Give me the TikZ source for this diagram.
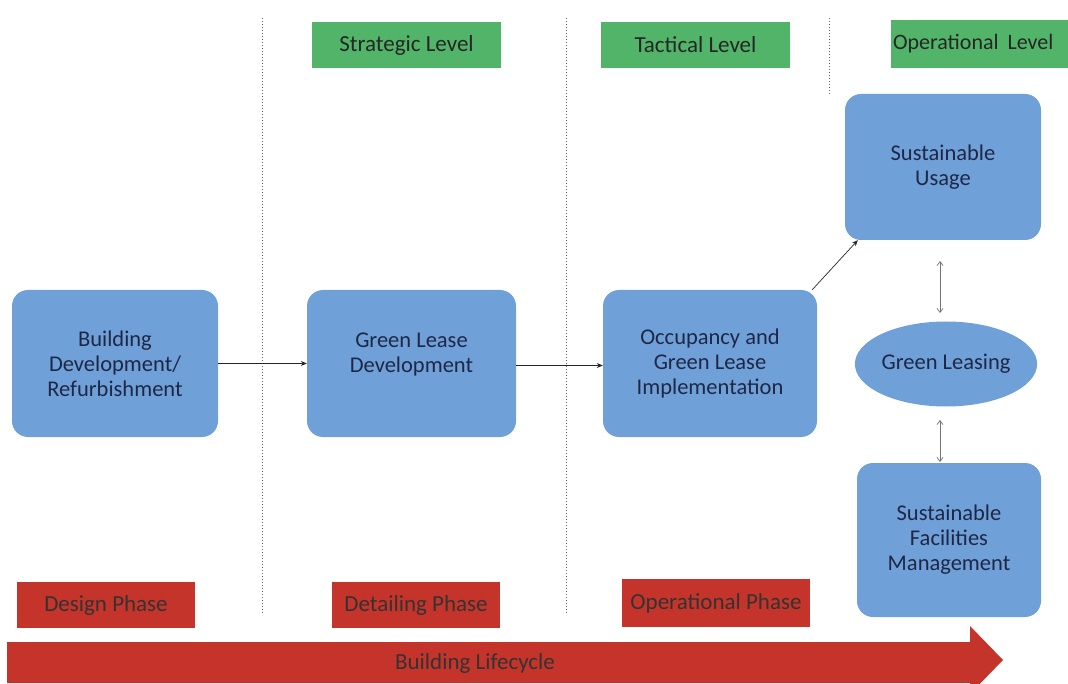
\documentclass[tikz,border=0pt]{standalone}
\usepackage{fontspec}
\setmainfont{Carlito}
\usetikzlibrary{shapes.geometric,arrows.meta,calc}
\definecolor{boxblue}{RGB}{112,160,216}
\definecolor{lvlgreen}{RGB}{82,180,104}
\definecolor{phred}{RGB}{196,52,42}
\definecolor{txt}{RGB}{30,40,70}
\tikzset{
  procbox/.style={fill=boxblue,draw=none,rounded corners=16pt,text=txt,align=center,font=\fontsize{22.5}{25}\selectfont,inner sep=0pt},
  proctext/.style={text=txt,align=center,font=\fontsize{22.5}{25}\selectfont,inner sep=0pt},
  lvlbox/.style={fill=lvlgreen,draw=none,text=black!85,font=\fontsize{23}{25}\selectfont,inner sep=0pt},
  phbox/.style={fill=phred,draw=none,text=black!80,font=\fontsize{23}{25}\selectfont,inner sep=0pt},
  divider/.style={draw=black!60,dash pattern=on 1.2pt off 1.8pt,line width=0.6pt},
  flow/.style={draw=black!85,line width=0.7pt,-{Stealth[length=6pt,width=5pt]}},
  both/.style={draw=black!55,line width=0.7pt,{Straight Barb[length=4pt,width=6pt]}-{Straight Barb[length=4pt,width=6pt]}}
}
\begin{document}
\begin{tikzpicture}[x=1pt,y=-1pt]
\clip (0,0) rectangle (1068,684);
\useasboundingbox (0,0) rectangle (1068,684);
% dividers
\coordinate (d1t) at (262,18); \coordinate (d1b) at (262,615);
\coordinate (d2t) at (566,18); \coordinate (d2b) at (566,615);
\coordinate (d3t) at (829,18); \coordinate (d3b) at (829,95);
\draw[divider] (d1t) -- (d1b);
\draw[divider] (d2t) -- (d2b);
\draw[divider] (d3t) -- (d3b);
% level boxes
\node[lvlbox,minimum width=189pt,minimum height=46pt] (strat) at (406.5,45) {Strategic Level};
\node[lvlbox,minimum width=189pt,minimum height=46pt] (tact) at (695.5,45) {Tactical Level};
\node[lvlbox,font=\fontsize{22}{25}\selectfont,minimum width=180pt,minimum height=48pt,text width=176pt,align=left] (oper) at (981,44) {Operational\hspace{9pt}Level};
% process boxes
\node[procbox,minimum width=206pt,minimum height=147pt] (build) at (115,363.5) {Building\\Development/\\Refurbishment};
\node[procbox,minimum width=209pt,minimum height=147pt] (lease) at (411.5,363.5) {};
\node[proctext] (leasetext) at (411.5,355) {Green Lease\\Development};
\node[procbox,minimum width=214pt,minimum height=147pt] (occ) at (710,363.5) {Occupancy and\\Green Lease\\Implementation};
\node[procbox,minimum width=196pt,minimum height=146pt] (usage) at (943,167) {Sustainable\\Usage};
\node[procbox,minimum width=184pt,minimum height=154pt] (fm) at (949,540) {Sustainable\\Facilities\\Management};
\node[ellipse,fill=boxblue,draw=none,text=txt,font=\fontsize{22.5}{25}\selectfont,minimum width=158pt,minimum height=85pt,inner sep=0pt] (gl) at (946,364) {Green Leasing};
% phase boxes
\node[phbox,minimum width=178pt,minimum height=46pt] (design) at (106,605) {Design Phase};
\node[phbox,minimum width=168pt,minimum height=46pt] (detail) at (416,605) {Detailing Phase};
\node[phbox,minimum width=188pt,minimum height=48pt] (opph) at (716,603) {Operational Phase};
% lifecycle arrow
\fill[phred] (7,642) -- (970,642) -- (970,626) -- (1003,660) -- (970,694) -- (970,683) -- (7,683) -- cycle;
\node[text=black!80,font=\fontsize{23}{25}\selectfont] (lc) at (475,663) {Building Lifecycle};
% connectors
\draw[flow] (build.east) -- (lease.west);
\draw[flow] ($(lease.east)+(0,2)$) -- ($(occ.west)+(0,2)$);
\draw[flow] ($(occ.north east)+(-5,0)$) -- ($(usage.south west)+(13,0)$);
\coordinate (a1t) at (940,261); \coordinate (a1b) at (940,313);
\coordinate (a2t) at (940,420); \coordinate (a2b) at (940,462);
\draw[both] (a1t) -- (a1b);
\draw[both] (a2t) -- (a2b);
\end{tikzpicture}
\end{document}
